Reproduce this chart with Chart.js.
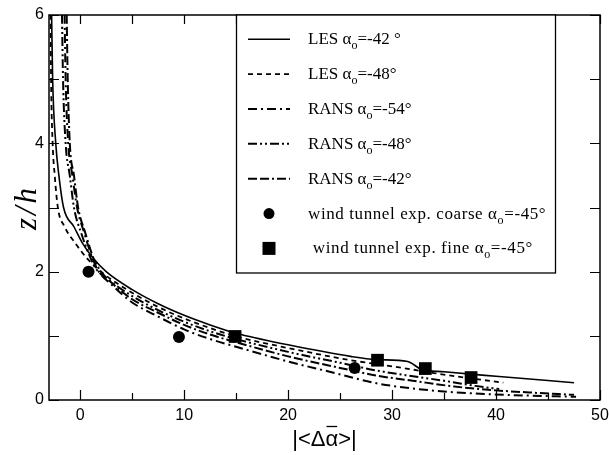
<!DOCTYPE html>
<html>
<head>
<meta charset="utf-8">
<script src="https://cdn.jsdelivr.net/npm/chart.js@4.4.0/dist/chart.umd.min.js"></script>
<style>
  html, body { margin: 0; padding: 0; background: #fff; }
  #wrap { width: 609px; height: 455px; }
</style>
</head>
<body>
<div id="wrap"><canvas id="profile"></canvas></div>
<script>
// mean deviation |<Δα>| against height z/h, each point is [x, z]
const lesM42 = [[-2.75, 6], [-2.65, 5], [-2.35, 4], [-2.05, 3.5], [-1.6, 3], [-0.6, 2.7], [0.2, 2.45],
  [1.3, 2.2], [2.5, 2.0], [5, 1.72], [7.5, 1.5], [10, 1.32], [12.5, 1.17], [15, 1.04], [20, 0.86],
  [26, 0.68], [28.5, 0.63], [31.5, 0.6], [32.8, 0.48], [35, 0.44], [40, 0.37], [47.5, 0.27]];
const lesM48 = [[-2.85, 6], [-2.8, 5], [-2.65, 4], [-2.45, 3.5], [-2.15, 3], [-1.5, 2.7], [-0.5, 2.45],
  [0.7, 2.2], [2.0, 2.0], [4.5, 1.72], [7.5, 1.45], [10, 1.27], [12.5, 1.12], [15, 0.99], [20, 0.81],
  [26, 0.62], [28.5, 0.56], [31, 0.5], [34, 0.42], [37, 0.35], [40.7, 0.27]];
const ransM54 = [[-1.5, 6], [-1.4, 5], [-1.15, 4], [-0.75, 3.5], [-0.3, 3], [0.4, 2.6], [1.2, 2.2],
  [1.8, 2.0], [3, 1.8], [5, 1.52], [7.5, 1.3], [10, 1.1], [12.5, 0.95], [15, 0.83], [20, 0.6],
  [24, 0.44], [28.5, 0.26], [32, 0.18], [36, 0.12], [41, 0.08], [47.7, 0.05]];
const ransM48 = [[-1.75, 6], [-1.65, 5], [-1.4, 4], [-1.0, 3.5], [-0.6, 3], [0.1, 2.6], [0.9, 2.25],
  [1.5, 2.05], [2.5, 1.9], [5, 1.62], [7.5, 1.4], [10, 1.22], [12.5, 1.07], [15, 0.95], [20, 0.75],
  [25, 0.58], [28.5, 0.46], [32, 0.37], [35, 0.3], [38, 0.22], [40.3, 0.17]];
const ransM42 = [[-1.3, 6], [-1.2, 5], [-1.0, 4], [-0.6, 3.5], [-0.2, 3], [0.5, 2.6], [1.3, 2.2],
  [2.0, 2.0], [3, 1.83], [5, 1.57], [7.5, 1.36], [10, 1.17], [12.5, 1.02], [15, 0.9], [20, 0.68],
  [25, 0.5], [28.5, 0.38], [32, 0.3], [36, 0.21], [40, 0.15], [44, 0.11], [47.5, 0.08]];
const tunnelCoarse = [[0.8, 2.0], [9.5, 0.98], [26.4, 0.5]];
const tunnelFine = [[14.9, 0.99], [28.6, 0.62], [33.2, 0.49], [37.6, 0.35]];

const xTicks = [0, 10, 20, 30, 40, 50];
const xMinorTicks = [5, 15, 25, 35, 45];
const zTicks = [0, 2, 4, 6];
const zMinorTicks = [1, 3, 5];

// legend rows: pieces of text, 'sub' pieces are lowered
const legendRows = [
  [['LES α'], ['o', 'sub'], ['=-42 °']],
  [['LES α'], ['o', 'sub'], ['=-48°']],
  [['RANS α'], ['o', 'sub'], ['=-54°']],
  [['RANS α'], ['o', 'sub'], ['=-48°']],
  [['RANS α'], ['o', 'sub'], ['=-42°']],
  [['wind tunnel exp. coarse α'], ['o', 'sub'], ['=-45°']],
  [[' wind tunnel exp. fine α'], ['o', 'sub'], ['=-45°']]
];

const toXY = arr => arr.map(p => ({ x: p[0], y: p[1] }));

function lineSet(data, dash, width) {
  return {
    data: toXY(data), showLine: true, borderColor: '#000', borderWidth: width,
    borderDash: dash, pointRadius: 0, cubicInterpolationMode: 'monotone', fill: false
  };
}

function drawRich(ctx, x, y, parts, size) {
  parts.forEach(([txt, kind]) => {
    if (kind === 'sub') {
      ctx.font = Math.round(size * 0.72) + 'px "Liberation Serif"';
      ctx.fillText(txt, x, y + 5);
    } else {
      ctx.font = size + 'px "Liberation Serif"';
      ctx.fillText(txt, x, y);
    }
    x += ctx.measureText(txt).width;
  });
}

// frame, inward ticks, legend box and axis titles
const decorations = {
  id: 'decorations',
  afterDraw(chart) {
    const { ctx, chartArea: a, scales } = chart;
    const xs = scales.x, ys = scales.y;
    ctx.save();
    ctx.strokeStyle = '#000';
    ctx.lineWidth = 1.5;
    ctx.setLineDash([]);
    ctx.strokeRect(a.left, a.top, a.right - a.left, a.bottom - a.top);

    ctx.lineWidth = 1.2;
    ctx.beginPath();
    const xMarks = xTicks.map(v => [v, 10]).concat(xMinorTicks.map(v => [v, 7]));
    xMarks.forEach(([v, len]) => {
      const px = Math.round(xs.getPixelForValue(v)) + 0.5;
      ctx.moveTo(px, a.bottom); ctx.lineTo(px, a.bottom - len);
      ctx.moveTo(px, a.top); ctx.lineTo(px, a.top + 9);
    });
    zTicks.concat(zMinorTicks).forEach(v => {
      const py = Math.round(ys.getPixelForValue(v)) + 0.5;
      ctx.moveTo(a.left, py); ctx.lineTo(a.left + 10, py);
      ctx.moveTo(a.right, py); ctx.lineTo(a.right - 10, py);
    });
    ctx.stroke();

    // legend
    const box = { l: 236, t: a.top, r: 555, b: 273 };
    ctx.fillStyle = '#fff';
    ctx.fillRect(box.l, box.t, box.r - box.l, box.b - box.t);
    ctx.lineWidth = 1.3;
    ctx.strokeRect(box.l + 0.5, box.t, box.r - box.l, box.b - box.t);
    ctx.fillStyle = '#000';
    ctx.textBaseline = 'alphabetic';
    ctx.textAlign = 'left';
    legendRows.forEach((parts, i) => {
      const ds = chart.data.datasets[i];
      const ry = 39.3 + i * 34.85;
      if (ds.showLine) {
        ctx.lineWidth = ds.borderWidth;
        ctx.setLineDash(ds.borderDash || []);
        ctx.beginPath();
        ctx.moveTo(248, ry); ctx.lineTo(290, ry);
        ctx.stroke();
        ctx.setLineDash([]);
        ctx.letterSpacing = '0px';
      } else {
        if (ds.pointStyle === 'circle') {
          ctx.beginPath();
          ctx.arc(269, ry, 5.5, 0, Math.PI * 2);
          ctx.fill();
        } else {
          ctx.fillRect(262.5, ry - 6.5, 13, 13);
        }
        ctx.letterSpacing = '0.6px';
      }
      drawRich(ctx, 308, ry + 5, parts, 17);
    });
    ctx.letterSpacing = '0px';

    // x title |<Δα>| with a bar over the alpha
    ctx.font = '22px "Liberation Sans"';
    const pre = '|<Δ', alpha = 'α', post = '>|';
    const w1 = ctx.measureText(pre).width;
    const w2 = ctx.measureText(alpha).width;
    const total = w1 + w2 + ctx.measureText(post).width;
    const tx = (a.left + a.right) / 2 - total / 2;
    const ty = 446;
    ctx.fillText(pre + alpha + post, tx, ty);
    ctx.lineWidth = 1.3;
    ctx.beginPath();
    ctx.moveTo(tx + w1 + 1, ty - 19.5);
    ctx.lineTo(tx + w1 + w2 - 1, ty - 19.5);
    ctx.stroke();

    // y title
    ctx.translate(28, (a.top + a.bottom) / 2);
    ctx.rotate(-Math.PI / 2);
    ctx.font = 'italic 31px "Liberation Serif"';
    ctx.letterSpacing = '3px';
    ctx.textAlign = 'center';
    ctx.textBaseline = 'middle';
    ctx.fillText('z/h', 0, 0);
    ctx.restore();
  }
};

new Chart(document.getElementById('profile'), {
  type: 'scatter',
  data: {
    datasets: [
      lineSet(lesM42, [], 1.6),
      lineSet(lesM48, [5, 4], 1.8),
      lineSet(ransM54, [9, 4, 2, 4], 2),
      lineSet(ransM48, [9, 3, 2, 3, 2, 3], 2),
      lineSet(ransM42, [9, 3, 9, 3, 2, 3], 2),
      { data: toXY(tunnelCoarse), pointStyle: 'circle', pointRadius: 6, showLine: false,
        backgroundColor: '#000', borderColor: '#000', borderWidth: 0 },
      { data: toXY(tunnelFine), pointStyle: 'rect', pointRadius: 9, showLine: false,
        backgroundColor: '#000', borderColor: '#000', borderWidth: 0 }
    ]
  },
  options: {
    responsive: true,
    maintainAspectRatio: false,
    animation: false,
    layout: { padding: { top: 15, right: 8, left: 0, bottom: 0 } },
    plugins: { legend: { display: false }, tooltip: { enabled: false } },
    scales: {
      x: {
        type: 'linear', min: -3, max: 50,
        grid: { display: false, drawTicks: false },
        border: { display: false },
        ticks: { color: '#000', padding: 6, font: { family: 'Liberation Sans', size: 16 }, autoSkip: false, maxRotation: 0 },
        afterBuildTicks: s => { s.ticks = xTicks.map(v => ({ value: v })); },
        afterFit: s => { s.height = 55; s.paddingLeft = 0; s.paddingRight = 0; }
      },
      y: {
        type: 'linear', min: 0, max: 6,
        grid: { display: false, drawTicks: false },
        border: { display: false },
        ticks: { color: '#000', padding: 5, font: { family: 'Liberation Sans', size: 16 } },
        afterBuildTicks: s => { s.ticks = zTicks.map(v => ({ value: v })); },
        afterFit: s => { s.width = 49; s.paddingTop = 0; s.paddingBottom = 0; }
      }
    }
  },
  plugins: [decorations]
});
</script>
</body>
</html>
